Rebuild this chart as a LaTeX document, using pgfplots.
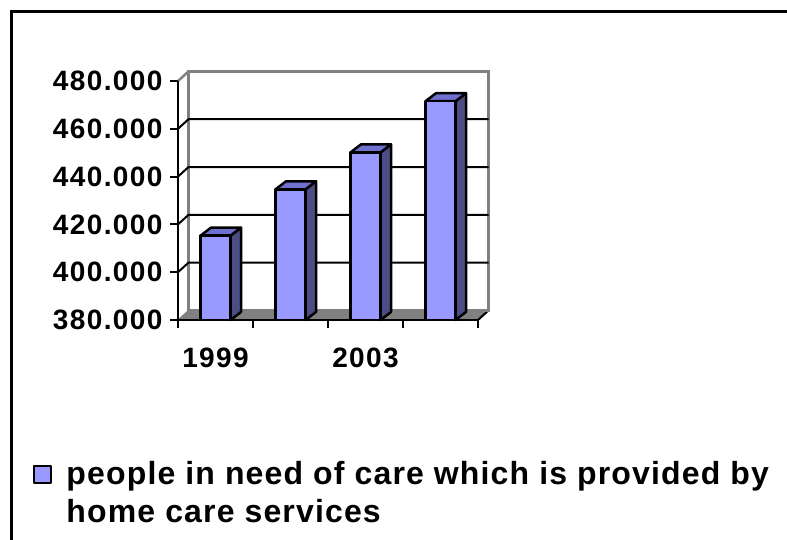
\documentclass[border=0pt]{standalone}
\usepackage{pgfplots}
\pgfplotsset{compat=1.18}
\usepackage{fontspec}
\setmainfont{Liberation Sans}
\definecolor{barfront}{RGB}{153,153,255}
\definecolor{barside}{RGB}{77,77,133}
\definecolor{bartop}{RGB}{112,112,206}
\definecolor{wallgray}{RGB}{128,128,128}
\begin{document}
\begin{tikzpicture}
\useasboundingbox (0,0) rectangle (787pt,540pt);
\clip (0,0) rectangle (787pt,540pt);
\draw[black, line width=3pt] (11pt,-20pt) -- (11pt,528pt) -- (810pt,528pt);
\begin{axis}[
  at={(178pt,220pt)}, anchor=south west,
  scale only axis, width=300pt, height=239pt,
  xmin=0, xmax=4, ymin=380000, ymax=480000,
  clip=false, axis on top,
  axis x line*=bottom, axis y line*=left,
  axis line style={-, black, line width=2.5pt},
  xtick={0,1,2,3,4}, xticklabels={,,,,},
  extra x ticks={0.5,2.5}, extra x tick labels={1999,2003},
  extra x tick style={major tick length=0pt, xticklabel style={yshift=-24pt}},
  ytick={380000,400000,420000,440000,460000,480000},
  scaled y ticks=false,
  yticklabel style={xshift=-4pt, /pgf/number format/fixed, /pgf/number format/1000 sep={.}, /pgf/number format/assume math mode=true},
  tick label style={font=\fontsize{28}{30}\selectfont\bfseries\addfontfeatures{LetterSpace=5}},
  tick align=outside, major tick length=8pt,
  tick style={black, line width=2pt},
  legend style={draw=none, fill=none, at={(-0.4933,-0.5740)}, anchor=north west,
    font=\fontsize{32}{38}\selectfont\bfseries\addfontfeatures{LetterSpace=3.6},
    cells={align=left}},
  legend cell align=left,
  legend image code/.code={\draw[fill=barfront, draw=black, line width=2pt] (0pt,10pt) rectangle (17pt,27pt); \path (29pt,0pt);},
]
% floor
\addplot[fill=wallgray, draw=wallgray, line width=1pt, forget plot] coordinates {(0,380000) (4,380000) (4.14,384000) (0.14,384000)} -- cycle;
\addplot[black, line width=2pt, forget plot] coordinates {(4,380000) (4.14,384000)};
% back wall
\addplot[draw=wallgray, line width=2.5pt, forget plot] coordinates {(0.14,384000) (4.14,384000) (4.14,484000) (0.14,484000)} -- cycle;
\addplot[wallgray, line width=2.5pt, forget plot] coordinates {(0,480000) (0.14,484000)};
% gridlines
\addplot[black, line width=2pt, forget plot] coordinates {(0,400000) (0.14,404000) (4.14,404000)};
\addplot[black, line width=2pt, forget plot] coordinates {(0,420000) (0.14,424000) (4.14,424000)};
\addplot[black, line width=2pt, forget plot] coordinates {(0,440000) (0.14,444000) (4.14,444000)};
\addplot[black, line width=2pt, forget plot] coordinates {(0,460000) (0.14,464000) (4.14,464000)};
% bar 1999
\addplot[fill=barside, draw=black, line width=2.5pt, line join=round, forget plot] coordinates {(0.7,380000) (0.84,383350) (0.84,418639) (0.7,415289)} -- cycle;
\addplot[fill=bartop, draw=black, line width=2.5pt, line join=round, forget plot] coordinates {(0.3,415289) (0.7,415289) (0.84,418639) (0.44,418639)} -- cycle;
\addplot[fill=barfront, draw=black, line width=2.5pt, line join=round] coordinates {(0.3,380000) (0.7,380000) (0.7,415289) (0.3,415289)} -- cycle;
\addlegendentry{people in need of care which is provided by\\home care services}
% bar 2001
\addplot[fill=barside, draw=black, line width=2.5pt, line join=round, forget plot] coordinates {(1.7,380000) (1.84,383350) (1.84,438029) (1.7,434679)} -- cycle;
\addplot[fill=bartop, draw=black, line width=2.5pt, line join=round, forget plot] coordinates {(1.3,434679) (1.7,434679) (1.84,438029) (1.44,438029)} -- cycle;
\addplot[fill=barfront, draw=black, line width=2.5pt, line join=round, forget plot] coordinates {(1.3,380000) (1.7,380000) (1.7,434679) (1.3,434679)} -- cycle;
% bar 2003
\addplot[fill=barside, draw=black, line width=2.5pt, line join=round, forget plot] coordinates {(2.7,380000) (2.84,383350) (2.84,453476) (2.7,450126)} -- cycle;
\addplot[fill=bartop, draw=black, line width=2.5pt, line join=round, forget plot] coordinates {(2.3,450126) (2.7,450126) (2.84,453476) (2.44,453476)} -- cycle;
\addplot[fill=barfront, draw=black, line width=2.5pt, line join=round, forget plot] coordinates {(2.3,380000) (2.7,380000) (2.7,450126) (2.3,450126)} -- cycle;
% bar 2005
\addplot[fill=barside, draw=black, line width=2.5pt, line join=round, forget plot] coordinates {(3.7,380000) (3.84,383350) (3.84,474893) (3.7,471543)} -- cycle;
\addplot[fill=bartop, draw=black, line width=2.5pt, line join=round, forget plot] coordinates {(3.3,471543) (3.7,471543) (3.84,474893) (3.44,474893)} -- cycle;
\addplot[fill=barfront, draw=black, line width=2.5pt, line join=round, forget plot] coordinates {(3.3,380000) (3.7,380000) (3.7,471543) (3.3,471543)} -- cycle;
\end{axis}
\end{tikzpicture}
\end{document}
